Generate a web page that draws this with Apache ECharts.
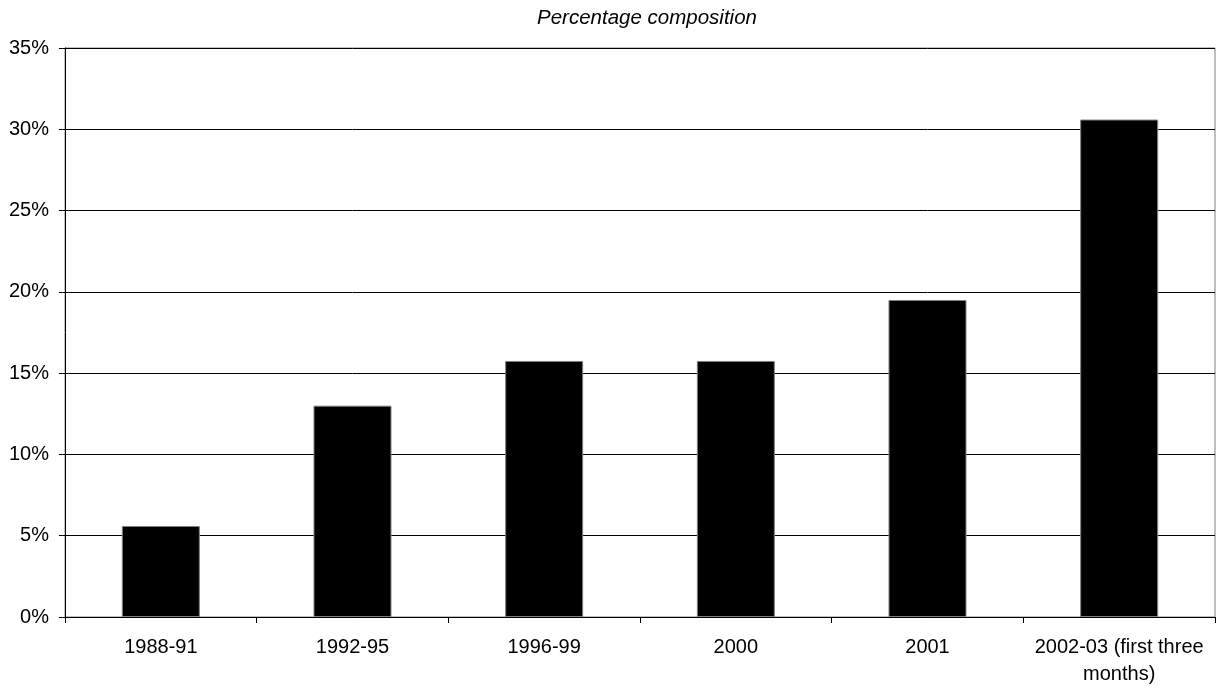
<!DOCTYPE html>
<html>
<head>
<meta charset="utf-8">
<script src="https://cdn.jsdelivr.net/npm/echarts@6/dist/echarts.min.js"></script>
<style>
  html, body { margin: 0; padding: 0; background: #fff; }
  #chart { width: 1222px; height: 689px; }
</style>
</head>
<body>
<div id="chart"></div>
<script>
// Periods shown along the horizontal axis
const periods = ['1988-91', '1992-95', '1996-99', '2000', '2001', '2002-03 (first three\nmonths)'];
// Share of the total, in percent
const shares = [5.6, 13.0, 15.75, 15.75, 19.5, 30.6];
// Value-axis range and step, in percent
const yMin = 0, yMax = 35, yStep = 5;

const font = '"Liberation Sans", Arial, sans-serif';
const chart = echarts.init(document.getElementById('chart'), null, { renderer: 'canvas' });

chart.setOption({
  animation: false,
  backgroundColor: '#ffffff',
  title: {
    text: 'Percentage composition',
    left: 642,
    textAlign: 'center',
    top: 3,
    textStyle: { fontFamily: font, fontSize: 20.5, fontStyle: 'italic', fontWeight: 'normal', color: '#000' }
  },
  grid: { left: 65, right: 7, top: 48, bottom: 72, containLabel: false,
          show: true, borderColor: '#808080', borderWidth: 1 },
  xAxis: {
    type: 'category',
    data: periods,
    axisLine: { lineStyle: { color: '#000', width: 1 } },
    axisTick: { show: true, length: 6, inside: false, alignWithLabel: false, lineStyle: { color: '#000' } },
    axisLabel: { fontFamily: font, fontSize: 20, color: '#000', margin: 17, lineHeight: 27, interval: 0 }
  },
  yAxis: {
    type: 'value',
    min: yMin, max: yMax, interval: yStep,
    axisLine: { show: true, lineStyle: { color: '#000', width: 1 } },
    axisTick: { show: true, length: 6, lineStyle: { color: '#000' } },
    axisLabel: { fontFamily: font, fontSize: 20, color: '#000', margin: 16, formatter: '{value}%' },
    splitLine: { show: true, lineStyle: { color: '#000', width: 1 } }
  },
  series: [{
    type: 'bar',
    data: shares,
    barWidth: '40.7%',
    itemStyle: { color: '#000', borderColor: '#808080', borderWidth: 1 }
  }]
});
</script>
</body>
</html>
